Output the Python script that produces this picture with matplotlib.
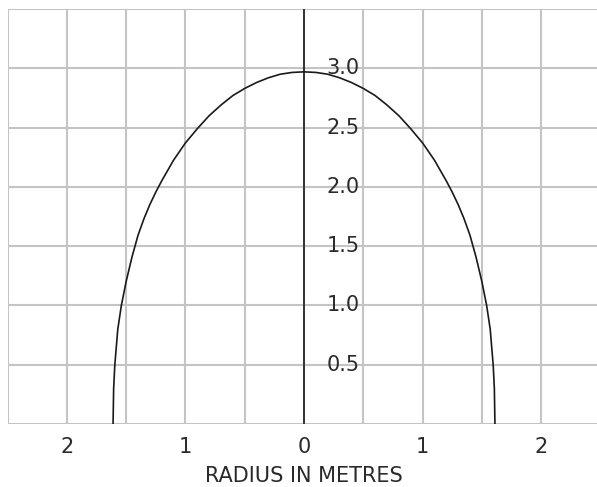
import matplotlib
matplotlib.use("Agg")
import matplotlib.pyplot as plt

# half profile of the dome (right side)
radius = [0.00, 0.10, 0.20, 0.30, 0.40, 0.50, 0.60, 0.70, 0.80, 0.90, 1.00,
          1.10, 1.20, 1.25, 1.30, 1.35, 1.40, 1.425, 1.45, 1.50, 1.54,
          1.57, 1.595, 1.605, 1.61]
height = [2.97, 2.965, 2.95, 2.92, 2.88, 2.83, 2.77, 2.69, 2.60, 2.49, 2.37,
          2.225, 2.05, 1.955, 1.85, 1.73, 1.59, 1.50, 1.41, 1.20, 1.00,
          0.80, 0.50, 0.30, 0.00]

x_ticks = [-2, -1, 0, 1, 2]
x_tick_labels = ["2", "1", "0", "1", "2"]
y_ticks = [0.5, 1.0, 1.5, 2.0, 2.5, 3.0]
y_tick_labels = ["0.5", "1.0", "1.5", "2.0", "2.5", "3.0"]

W, H = 597, 487
fig = plt.figure(figsize=(W / 100, H / 100), dpi=100)
left_px, top_px, bottom_px = 7.5, 9, 424
ax = fig.add_axes([left_px / W, 1 - bottom_px / H, 1 - left_px / W, (bottom_px - top_px) / H])

# full curve: mirror the left side
xs = [-r for r in radius[::-1]] + radius[1:]
ys = height[::-1] + height[1:]
ax.plot(xs, ys, color="#1a1a1a", lw=1.2, zorder=3)
ax.axvline(0, color="#1a1a1a", lw=1.2, zorder=3)

ax.set_xlim(-2.5, -2.5 + (W - left_px) / 118.6)
ax.set_ylim(0, 3.5)

grid_color = "#c4c4c4"
for gx in [-2.5 + 0.5 * i for i in range(10)]:
    ax.axvline(gx, color=grid_color, lw=1.5, zorder=1)
for gy in [0.5 * i for i in range(8)]:
    ax.axhline(gy, color=grid_color, lw=1.5, zorder=1)

for s in ax.spines.values():
    s.set_visible(False)
ax.set_xticks([])
ax.set_yticks([])

font = dict(family="DejaVu Sans", fontsize=15, color="#2a2a2a")
for v, lab in zip(y_ticks, y_tick_labels):
    ax.text(0.47, v, lab, ha="right", va="center", **font)
for v, lab in zip(x_ticks, x_tick_labels):
    ax.text(v, -0.19, lab, ha="center", va="center", clip_on=False, **font)
ax.text(0, -0.44, "RADIUS IN METRES", ha="center", va="center", clip_on=False, **font)

fig.savefig("out.png", dpi=100)
